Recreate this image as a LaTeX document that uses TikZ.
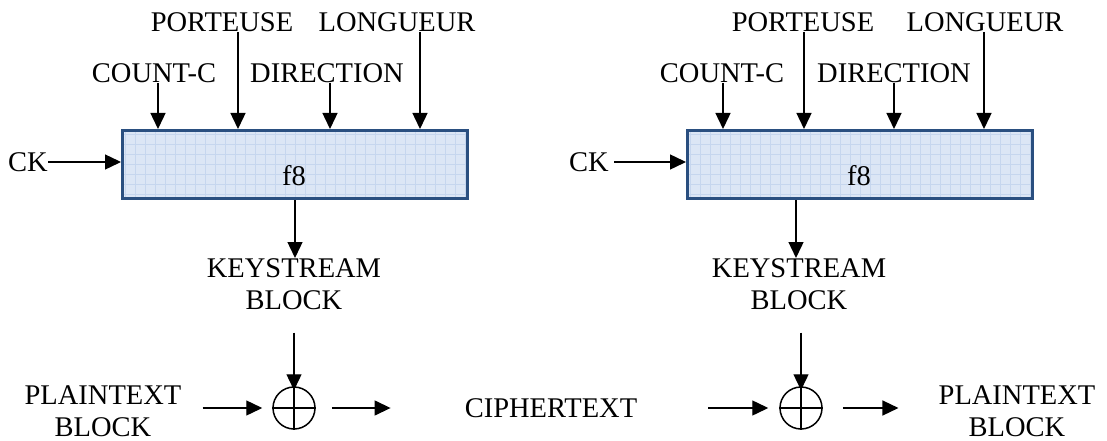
\documentclass[tikz,border=0pt]{standalone}
\usepackage{fontspec}
\setmainfont{Liberation Serif}
\usetikzlibrary{arrows.meta,calc}
\definecolor{boxborder}{HTML}{2A4F80}
\definecolor{boxfill}{HTML}{DCE6F5}
\definecolor{boxgrid}{HTML}{C6D6EE}
\begin{document}
\begin{tikzpicture}[x=1pt,y=-1pt,
  lbl/.style={inner sep=0pt, font=\fontsize{28.5}{32}\selectfont},
  arr/.style={line width=1.4pt, -{Triangle[length=16pt,width=15pt]}},
  fbox/.style={draw=boxborder, line width=3pt, fill=boxfill, minimum width=345pt, minimum height=68pt, inner sep=0pt,
    path picture={\draw[boxgrid, line width=0.7pt, step=10pt] (path picture bounding box.south west) grid (path picture bounding box.north east);}},
  xorc/.style={circle, draw, line width=1.5pt, minimum size=42pt, inner sep=0pt}]
\useasboundingbox (0,0) rectangle (1107,441);

% ---------- left f8 ----------
\node[fbox] (box1) at (295,164.5) {};
\node[lbl, anchor=base] (f81) at (294,185) {f8};
\node[lbl, anchor=base] (port1) at (222,32) {PORTEUSE};
\node[lbl, anchor=base] (long1) at (397,32) {LONGUEUR};
\node[lbl, anchor=base] (cnt1) at (154,83) {COUNT-C};
\node[lbl, anchor=base] (dir1) at (327,83) {DIRECTION};
\node[lbl, anchor=east] (ck1) at (48,162) {CK};
\coordinate (a1) at (158,83);
\coordinate (b1) at (238,32);
\coordinate (c1) at (330,83);
\coordinate (d1) at (420,32);
\draw[arr] (a1) -- (a1 |- box1.north);
\draw[arr] (b1) -- (b1 |- box1.north);
\draw[arr] (c1) -- (c1 |- box1.north);
\draw[arr] (d1) -- (d1 |- box1.north);
\draw[arr] (ck1.east) -- (ck1.east -| box1.west);

\node[lbl, anchor=north, align=center] (ks1) at (294,258) {KEYSTREAM\\BLOCK};
\coordinate (o1) at (295,200);
\draw[arr] (o1) -- (o1 |- ks1.north);
\node[xorc] (x1) at (294,408) {};
\draw[line width=1.5pt] (x1.north) -- (x1.south) (x1.west) -- (x1.east);
\draw[arr] ([yshift=-23pt]ks1.south -| x1.north) -- ([yshift=-4pt]x1.north);

\node[lbl, align=center] (pt1) at (103,411) {PLAINTEXT\\BLOCK};
\node[lbl] (ct) at (551,408) {CIPHERTEXT};
\draw[arr, shorten <=21pt, shorten >=10pt] (pt1.east |- x1.west) -- (x1.west);
\draw[arr, shorten <=16pt, shorten >=74pt] (x1.east) -- (ct.west |- x1.east);

% ---------- right f8 ----------
\node[fbox] (box2) at (860,164.5) {};
\node[lbl, anchor=base] (f82) at (859,185) {f8};
\node[lbl, anchor=base] (port2) at (803,32) {PORTEUSE};
\node[lbl, anchor=base] (long2) at (985,32) {LONGUEUR};
\node[lbl, anchor=base] (cnt2) at (722,83) {COUNT-C};
\node[lbl, anchor=base] (dir2) at (894,83) {DIRECTION};
\node[lbl, anchor=east] (ck2) at (609,162) {CK};
\coordinate (a2) at (723,83);
\coordinate (b2) at (804,32);
\coordinate (c2) at (894,83);
\coordinate (d2) at (984,32);
\draw[arr] (a2) -- (a2 |- box2.north);
\draw[arr] (b2) -- (b2 |- box2.north);
\draw[arr] (c2) -- (c2 |- box2.north);
\draw[arr] (d2) -- (d2 |- box2.north);
\draw[arr, shorten <=5pt] (ck2.east) -- (ck2.east -| box2.west);

\node[lbl, anchor=north, align=center] (ks2) at (799,258) {KEYSTREAM\\BLOCK};
\coordinate (o2) at (796,200);
\draw[arr] (o2) -- (o2 |- ks2.north);
\node[xorc] (x2) at (801,408) {};
\draw[line width=1.5pt] (x2.north) -- (x2.south) (x2.west) -- (x2.east);
\draw[arr] ([yshift=-23pt]ks2.south -| x2.north) -- ([yshift=-4pt]x2.north);

\node[lbl, align=center] (pt2) at (1017,411) {PLAINTEXT\\BLOCK};
\draw[arr, shorten <=71pt, shorten >=11pt] (ct.east |- x2.west) -- (x2.west);
\draw[arr, shorten <=20pt, shorten >=40pt] (x2.east) -- (pt2.west |- x2.east);
\end{tikzpicture}
\end{document}
